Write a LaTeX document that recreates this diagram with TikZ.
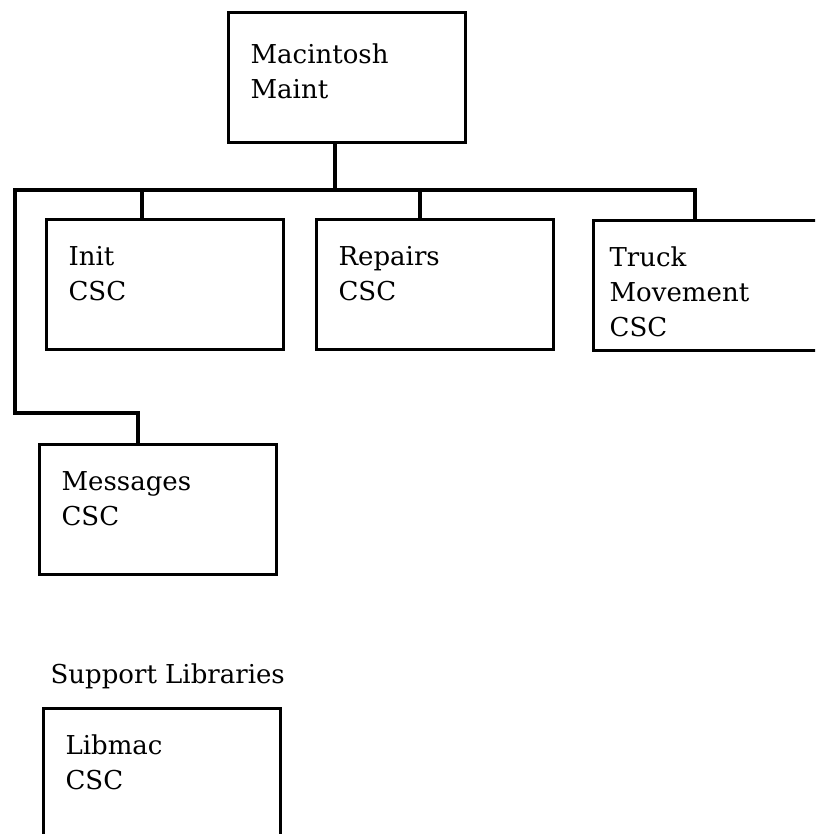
\documentclass[tikz,border=0pt]{standalone}
\usepackage{fontspec}
\setmainfont{DejaVu Serif}
\usepackage{tikz}

\begin{document}
\begin{tikzpicture}
	[x=1pt,y=-1pt,line width=3.2pt,
		csc node/.style={draw,rectangle,anchor=north west,align=left,text width=193pt,inner xsep=22pt,inner ysep=0pt,text height=46pt,text depth=84pt,font=\fontsize{26}{35}\selectfont},
		title node/.style={anchor=base west,inner sep=0pt,font=\fontsize{26}{35}\selectfont}]

	\useasboundingbox (0,0) rectangle (815,834);
	\clip (0,0) rectangle (815,834);

	\node[csc node,text height=51pt,text depth=79pt] (Maint) at (227,11) {Macintosh\\Maint};
	\node[csc node] (Init) at (45,218) {Init\\CSC};
	\node[csc node] (Repairs) at (315,218) {Repairs\\CSC};
	\node[csc node,inner xsep=16pt,text width=205pt] (Truck) at (592,219) {Truck\\Movement\\CSC};
	\node[csc node] (Msg) at (38,443) {Messages\\CSC};
	\node[title node] (Sup) at (49,683) {Support Libraries};
	\node[csc node] (Libmac) at (42,707) {Libmac\\CSC};

	\coordinate (hub) at (335,190);
	\coordinate (busL) at (15,190);
	\coordinate (busR) at (695,190);
	\coordinate (initTap) at (142,190);
	\coordinate (repTap) at (420,190);
	\coordinate (msgTap) at (138,413);

	\draw (hub |- Maint.south) -- (hub);
	\draw (Msg.north -| msgTap) -- (msgTap) -| (busL) -- (busR) -- (busR |- Truck.north);
	\draw (initTap) -- (initTap |- Init.north);
	\draw (repTap) -- (repTap |- Repairs.north);
\end{tikzpicture}
\end{document}
